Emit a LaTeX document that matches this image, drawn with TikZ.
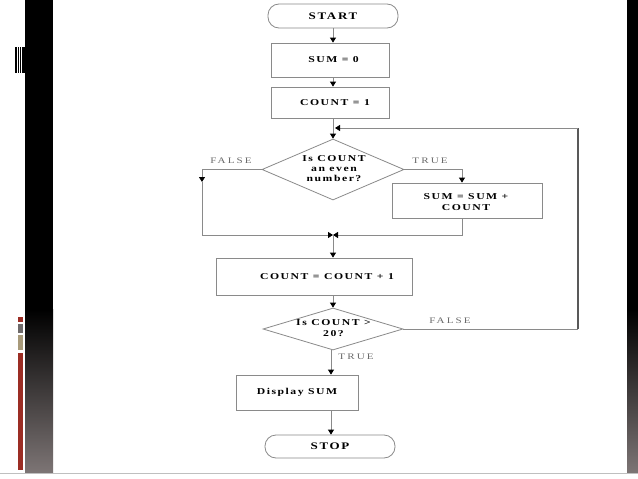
\documentclass[tikz,border=0pt]{standalone}
\usepackage{fontspec}
\setmainfont{Liberation Serif}
\newfontfamily\spfont[FakeStretch=1.3,LetterSpace=17]{Liberation Serif}
\newfontfamily\lbfont[FakeStretch=1.3,LetterSpace=25]{Liberation Serif}
\usetikzlibrary{arrows.meta,shapes.geometric,calc}
\definecolor{barred}{HTML}{9B2D24}
\definecolor{bargray}{HTML}{6E6A6A}
\definecolor{bartan}{HTML}{A89A7A}
\definecolor{barend}{HTML}{7D7575}
\definecolor{lncol}{HTML}{8A8A8A}
\definecolor{lblcol}{HTML}{6A6A6A}
\begin{document}
\begin{tikzpicture}[x=1pt,y=-1pt,
  ln/.style={draw=lncol, line width=0.8pt},
  loopln/.style={draw=black!65, line width=1.3pt},
  arr/.style={-{Triangle[width=6pt,length=5pt,color=black]}},
  bx/.style={draw=lncol, line width=0.8pt, rectangle, inner sep=0pt},
  txt/.style={font=\spfont\bfseries\fontsize{9}{10.5}\selectfont, align=center, inner sep=0pt},
  term/.style={draw=lncol, line width=0.8pt, rectangle, rounded corners=11pt, inner sep=0pt,
    font=\spfont\bfseries\fontsize{10}{12}\selectfont},
  dia/.style={draw=lncol, line width=0.8pt, diamond, inner sep=0pt},
  lbl/.style={font=\lbfont\fontsize{8.5}{10}\selectfont, text=lblcol, inner sep=0pt}
]
\useasboundingbox (0,0) rectangle (638,479);
\fill[white] (0,0) rectangle (638,479);
% side bars
\fill[black] (25,0) rectangle (53,310);
\shade[top color=black, bottom color=barend] (25,309.5) rectangle (53,473);
\fill[black] (627,0) rectangle (638,310);
\shade[top color=black, bottom color=barend] (627,309.5) rectangle (638,473);
\draw[black!25, line width=1pt] (0,473.5) -- (638,473.5);
% stripes
\foreach \xx in {15.2,17.6,20.0,22.4} {\fill[black] (\xx,47) rectangle ++(1.4,26);}
\fill[black] (24,47) rectangle (25,73);
% small colour bars
\fill[barred] (18,317) rectangle (23,322);
\fill[bargray] (18,323.5) rectangle (23,333);
\fill[bartan] (18,334.5) rectangle (23,350);
\fill[barred] (18,352.5) rectangle (23,470);

% nodes
\coordinate (ax) at (333,0);
\node[term, minimum width=130pt, minimum height=24pt] (start) at (333,16) {START};
\node[bx, minimum width=118pt, minimum height=34pt] (sum0) at (330,60) {};
\node[txt] (sum0t) at (333.5,60) {SUM = 0};
\node[bx, minimum width=118pt, minimum height=31pt] (count1) at (330,102.5) {};
\node[txt] (count1t) at (335,102.5) {COUNT = 1};
\node[dia, minimum width=142pt, minimum height=61pt] (dia1) at (333,169.5) {};
\node[txt, font=\spfont\bfseries\fontsize{9}{10}\selectfont] (dia1t) at (334,168.5) {Is COUNT\\an even\\number?};
\node[bx, minimum width=150pt, minimum height=35pt] (sumbox) at (467,200.5) {};
\node[txt] (sumboxt) at (466,202) {SUM = SUM +\\COUNT};
\node[bx, minimum width=196pt, minimum height=37pt] (cnt1) at (314,276.5) {};
\node[txt] (cnt1t) at (327,276.5) {COUNT = COUNT + 1};
\node[dia, minimum width=140pt, minimum height=42pt] (dia2) at (333,329) {};
\node[txt, font=\spfont\bfseries\fontsize{9}{11}\selectfont] (dia2t) at (333.5,328.5) {Is COUNT >\\20?};
\node[bx, minimum width=122pt, minimum height=35pt] (disp) at (297,392.5) {};
\node[txt] (dispt) at (297,392.5) {Display SUM};
\node[term, minimum width=130pt, minimum height=23pt] (stop) at (330,446.5) {STOP};

% labels
\node[lbl] (lf1) at (231,161) {FALSE};
\node[lbl] (lt1) at (430,161) {TRUE};
\node[lbl] (lf2) at (450,321) {FALSE};
\node[lbl] (lt2) at (356,357) {TRUE};

% coordinates
\coordinate (tx) at (462,0);
\coordinate (fa) at (202,182);
\coordinate (fb) at (202,235);
\coordinate (j) at (333,235);
\coordinate (rc) at (578,128);
\coordinate (lt) at (335,128);
\coordinate (dx) at (331,0);

% connectors
\draw[ln,arr] (start.south) -- (start.south |- sum0.north);
\draw[ln,arr] (ax |- sum0.south) -- (ax |- count1.north);
\draw[ln,arr] (ax |- count1.south) -- (dia1.north);
\draw[ln,arr] (dia1.east) -| (tx |- sumbox.north);
\draw[ln,arr] (dia1.west) -| (fa);
\draw[ln] (fa) -- (fb);
\draw[ln,arr] (fb) -- (j);
\draw[ln,arr] (tx |- sumbox.south) |- (j);
\draw[ln,arr] (j) -- (ax |- cnt1.north);
\draw[ln,arr] (ax |- cnt1.south) -- (dia2.north);
\draw[ln,arr] (dx |- dia2.south) -- (dx |- disp.north);
\draw[ln,arr] (dx |- disp.south) -- (dx |- stop.north);
\draw[ln] (dia2.east) -- (dia2.east -| rc);
\draw[loopln] (dia2.east -| rc) -- (rc);
\draw[ln,arr] (rc) -- (lt);
\end{tikzpicture}
\end{document}
